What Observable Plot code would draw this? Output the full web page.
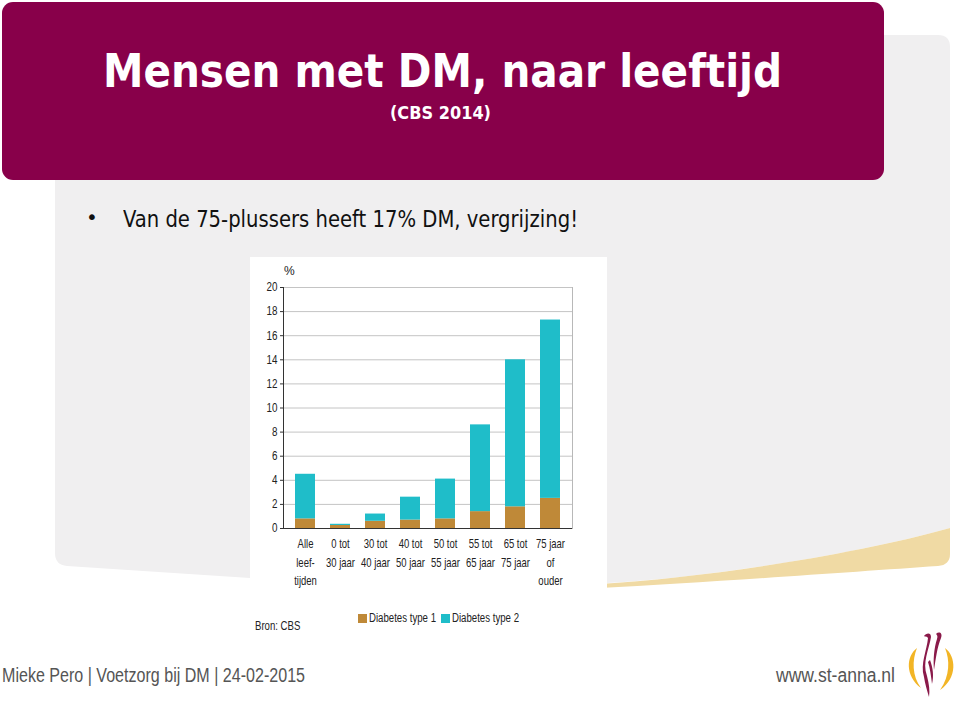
<!DOCTYPE html>
<html>
<head>
<meta charset="utf-8">
<script src="https://cdn.jsdelivr.net/npm/d3@7"></script>
<script src="https://cdn.jsdelivr.net/npm/@observablehq/plot@0.6"></script>
<style>
  html, body { margin: 0; padding: 0; background: #fff; width: 960px; height: 701px; overflow: hidden; }
  #page { position: relative; width: 960px; height: 701px; }
  .abs { position: absolute; white-space: nowrap; }
  .fit { transform-origin: 0 0; display: inline-block; }
  #title { left: 103px; top: 47px; font-family: "DejaVu Sans Condensed", "DejaVu Sans", sans-serif; font-weight: bold; font-size: 47px; color: #fff; line-height: 1; }
  #subtitle { left: 390px; top: 105px; font-family: "DejaVu Sans Condensed", "DejaVu Sans", sans-serif; font-weight: bold; font-size: 17px; color: #fff; line-height: 1; }
  #bullet { left: 86px; top: 207px; font-family: "DejaVu Sans", sans-serif; font-size: 20px; color: #111; line-height: 1; }
  #btext { left: 123px; top: 208px; font-family: "DejaVu Sans Condensed", "DejaVu Sans", sans-serif; font-size: 23px; color: #111; line-height: 1; }
  #chartbox { left: 250px; top: 257px; width: 357px; height: 333px; background: #fff; }
  .narrow { font-family: "Liberation Sans", sans-serif; }
  .sq { transform: scaleX(0.8); transform-origin: 0 0; }
  #pct { left: 284px; top: 264px; font-size: 12px; color: #222; }
  #bron { left: 255px; top: 619px; font-size: 12px; color: #222; }
  #legend { left: 358px; top: 611px; font-size: 12px; color: #222; display: flex; align-items: center; }
  #legend .sw { width: 9px; height: 9px; display: inline-block; margin-right: 2px; }
  #legend .it { display: flex; align-items: center; margin-right: 5px; }
  #footer { left: 2px; top: 664px; font-size: 20px; color: #555; font-family: "Liberation Sans", sans-serif; }
  #url { left: 776px; top: 664px; font-size: 20px; color: #555; font-family: "Liberation Sans", sans-serif; }
</style>
</head>
<body>
<div id="page">
  <svg class="abs" style="left:0;top:0" width="960" height="701">
    <path d="M67,35 H938 Q950,35 950,47 V528 C850,556 700,578 607,583 L250,578 L67,566 Q55,565 55,553 V47 Q55,35 67,35 Z" fill="#f0eff0"/>
    <path d="M600,584 C700,578 850,556 950,528 V554 Q950,565 938,566 C850,572 700,583 600,588 Z" fill="#f0daa4"/>
    <rect x="2" y="2" width="882" height="178" rx="11" ry="11" fill="#88004a"/>
    <!-- logo -->
    <path d="M917,648 C906,656 905,676 921,688 C912,676 912,660 917,648 Z" fill="#f2b526"/>
    <path d="M945,648 C956,656 958,678 940,690 C950,676 950,660 945,648 Z" fill="#f2b526"/>
    <path d="M924,636 C926,633 931,632 931,637 C929,650 922,662 927,676 C929,684 930,690 929,697 C927,690 925,684 924,677 C920,664 927,650 928,638 C927,636 925,637 924,636 Z" fill="#8a1a4a"/>
    <path d="M936,634 C939,631 943,633 941,638 C937,648 936,658 934,670 C933,660 934,648 937,639 C938,636 937,635 936,634 Z" fill="#8a1a4a"/>
    <path d="M930,660 C933,668 934,676 932,684 C931,676 930,668 928,662 Z" fill="#8a1a4a"/>
  </svg>
  <div id="title" class="abs"><span class="fit" data-w="679">Mensen met DM, naar leeftijd</span></div>
  <div id="subtitle" class="abs"><span class="fit" data-w="101">(CBS 2014)</span></div>
  <div id="bullet" class="abs">•</div>
  <div id="btext" class="abs"><span class="fit" data-w="455">Van de 75-plussers heeft 17% DM, vergrijzing!</span></div>
  <div id="chartbox" class="abs"></div>
  <div id="pct" class="abs narrow">%</div>
  <div id="bron" class="abs narrow sq">Bron: CBS</div>
  <div id="legend" class="abs narrow"></div>
  <div id="footer" class="abs"><span class="fit" data-w="303">Mieke Pero | Voetzorg bij DM | 24-02-2015</span></div>
  <div id="url" class="abs"><span class="fit" data-w="119">www.st-anna.nl</span></div>
</div>
<script>
const categories = ["Alle\nleef-\ntijden", "0 tot\n30 jaar", "30 tot\n40 jaar", "40 tot\n50 jaar", "50 tot\n55 jaar", "55 tot\n65 jaar", "65 tot\n75 jaar", "75 jaar\nof\nouder"];
const series = ["Diabetes type 1", "Diabetes type 2"];
const type1 = [0.8, 0.25, 0.6, 0.7, 0.8, 1.4, 1.8, 2.5];
const type2 = [3.7, 0.1, 0.6, 1.9, 3.3, 7.2, 12.2, 14.8];
const yTicks = [0, 2, 4, 6, 8, 10, 12, 14, 16, 18, 20];
const colors = ["#bf8938", "#1fbdc9"];

const data = [];
categories.forEach((c, i) => {
  data.push({cat: c, series: series[0], value: type1[i]});
  data.push({cat: c, series: series[1], value: type2[i]});
});

const font = '"Liberation Sans", sans-serif';

const chart = Plot.plot({
  width: 357,
  height: 333,
  marginLeft: 33,
  marginRight: 35,
  marginTop: 30,
  marginBottom: 62,
  style: {fontFamily: font, fontSize: "12px", color: "#222", background: "white", overflow: "visible"},
  x: {domain: categories, paddingInner: 0.44, paddingOuter: 0.25, label: null},
  y: {domain: [0, 20], label: null},
  color: {domain: series, range: colors},
  marks: [
    Plot.gridY(yTicks, {stroke: "#c4c4c4", strokeOpacity: 1}),
    Plot.barY(data, {x: "cat", y: "value", fill: "series"}),
    Plot.ruleY([0], {stroke: "#333"}),
    Plot.frame({anchor: "left", stroke: "#333"}),
    Plot.frame({anchor: "right", stroke: "#b8b8b8"}),
    Plot.axisY(yTicks, {tickSize: 3, tickPadding: 3, label: null, stroke: "#333"}),
    Plot.axisX({tickSize: 0, tickPadding: 6, lineHeight: 1.5, fontSize: 12.5, label: null})
  ]
});
document.getElementById("chartbox").appendChild(chart);

// condense tick labels to mimic a narrow typeface
chart.querySelectorAll('g[aria-label="x-axis tick label"] text').forEach(t => {
  t.setAttribute("transform", (t.getAttribute("transform") || "") + " scale(0.76,1)");
});
chart.querySelectorAll('g[aria-label="y-axis tick label"] text').forEach(t => {
  t.setAttribute("transform", (t.getAttribute("transform") || "") + " scale(0.82,1)");
});

const legend = document.getElementById("legend");
series.forEach((s, i) => {
  const it = document.createElement("span");
  it.className = "it";
  const sw = document.createElement("span");
  sw.className = "sw";
  sw.style.background = colors[i];
  it.appendChild(sw);
  const lab = document.createElement("span");
  lab.className = "fit";
  lab.dataset.w = "67";
  lab.textContent = s;
  it.appendChild(lab);
  legend.appendChild(it);
});

document.querySelectorAll(".fit").forEach(el => {
  const target = +el.dataset.w;
  const w = el.getBoundingClientRect().width;
  if (w > 0) {
    el.style.transform = `scaleX(${target / w})`;
    if (el.parentElement.classList.contains("it")) el.style.marginRight = (target - w) + "px";
  }
});
</script>
</body>
</html>
